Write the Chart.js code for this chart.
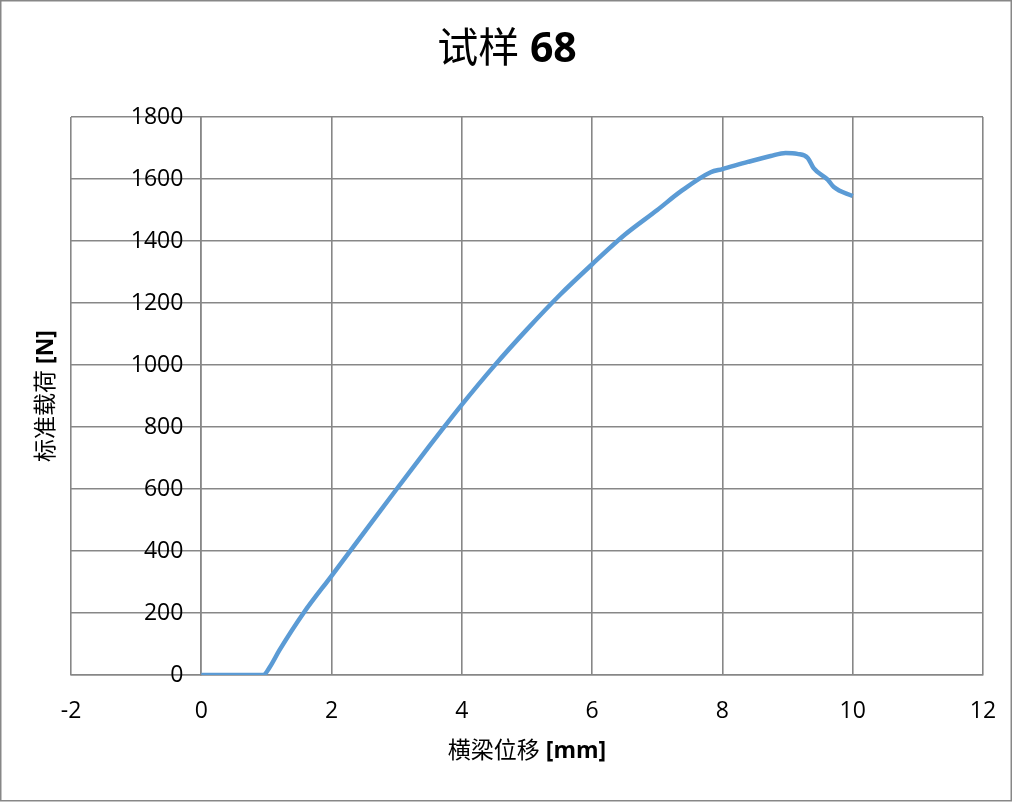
<!DOCTYPE html>
<html>
<head>
<meta charset="utf-8">
<script src="https://cdn.jsdelivr.net/npm/chart.js@4"></script>
<style>
  body { margin: 0; background: #fff; }
  canvas { display: block; }
</style>
</head>
<body>
<canvas id="myChart" width="1013" height="802"></canvas>
<script>
// 数据
var xValues = [0, 0.95, 1.05, 1.2, 1.57, 2.0, 2.5, 3.0, 3.5, 4.0, 4.5, 5.0, 5.5, 6.0, 6.5, 7.0, 7.36, 7.82, 8.0, 8.39, 8.74, 8.97, 9.15, 9.31, 9.4, 9.62, 9.71, 10.0];
var yValues = [0, 0, 25, 80, 200, 320, 460, 600, 738, 872, 998, 1115, 1225, 1325, 1420, 1500, 1560, 1622, 1632, 1655, 1674, 1684, 1681, 1668, 1635, 1597, 1574, 1545];
var xTicks = [-2, 0, 2, 4, 6, 8, 10, 12];
var yTicks = [0, 200, 400, 600, 800, 1000, 1200, 1400, 1600, 1800];

var chartTitle = [["试样 ", "normal"], ["68", "bold"]];
var xTitle = [["横梁位移 ", "normal"], ["[mm]", "bold"]];
var yTitle = [["标准载荷 ", "normal"], ["[N]", "bold"]];

var points = xValues.map(function (x, i) { return { x: x, y: yValues[i] }; });

var gridColor = "#878787";
var fontFam = "'Open Sans', 'Noto Sans CJK SC', sans-serif";

// 混合字体文字
function drawMixed(ctx, parts, size, cx, cy, rot) {
  ctx.save();
  ctx.translate(cx, cy);
  if (rot) ctx.rotate(rot);
  ctx.textBaseline = "middle";
  ctx.fillStyle = "#000";
  var total = 0;
  var widths = parts.map(function (p) {
    ctx.font = p[1] + " " + size + "px " + fontFam;
    var w = ctx.measureText(p[0]).width;
    total += w;
    return w;
  });
  var x = -total / 2;
  parts.forEach(function (p, i) {
    ctx.font = p[1] + " " + size + "px " + fontFam;
    ctx.textAlign = "left";
    ctx.fillText(p[0], x, 0);
    x += widths[i];
  });
  ctx.restore();
}

var titlePlugin = {
  id: "titles",
  beforeDraw: function (chart) {
    var ctx = chart.ctx;
    ctx.save();
    ctx.fillStyle = "#fff";
    ctx.fillRect(0, 0, chart.width, chart.height);
    ctx.strokeStyle = gridColor;
    ctx.lineWidth = 1.5;
    ctx.strokeRect(0.75, 0.75, 1010.5, 800);
    ctx.restore();
  },
  afterDraw: function (chart) {
    var ctx = chart.ctx;
    drawMixed(ctx, chartTitle, 41, 507, 50, 0);
    drawMixed(ctx, xTitle, 23, 527, 751, 0);
    drawMixed(ctx, yTitle, 23, 46, 396, -Math.PI / 2);
  }
};

new Chart("myChart", {
  type: "line",
  data: {
    datasets: [{
      data: points,
      borderColor: "#5b9bd5",
      borderWidth: 4.5,
      pointRadius: 0,
      fill: false,
      cubicInterpolationMode: "monotone"
    }]
  },
  options: {
    responsive: false,
    animation: false,
    devicePixelRatio: 1,
    layout: { padding: { left: 71, right: 30, top: 117, bottom: 67 } },
    plugins: {
      legend: { display: false },
      title: { display: false },
      tooltip: { enabled: false }
    },
    scales: {
      x: {
        type: "linear",
        min: -2,
        max: 12,
        afterBuildTicks: function (s) { s.ticks = xTicks.map(function (v) { return { value: v }; }); },
        afterFit: function (s) { s.height = 60; s.paddingLeft = 0; s.paddingRight = 0; },
        grid: { color: gridColor, lineWidth: 1.6, drawTicks: false },
        border: { color: gridColor, width: 1.6 },
        ticks: { color: "#000", font: { family: fontFam, size: 23 }, padding: 23, maxRotation: 0,
          callback: function (v) { return String(v); } }
      },
      y: {
        type: "linear",
        min: 0,
        max: 1800,
        position: { x: 0 },
        afterBuildTicks: function (s) { s.ticks = yTicks.map(function (v) { return { value: v }; }); },
        afterFit: function (s) { s.paddingLeft = 0; s.paddingRight = 0; },
        grid: { color: gridColor, lineWidth: 1.6, drawTicks: false },
        border: { color: gridColor, width: 1.6 },
        // 轴在 x=0 处, padding 不起作用, 用空格把标签推开
        ticks: { color: "#000", font: { family: fontFam, size: 23 },
          callback: function (v) { return String(v) + "   "; } }
      }
    }
  },
  plugins: [titlePlugin]
});
</script>
</body>
</html>
